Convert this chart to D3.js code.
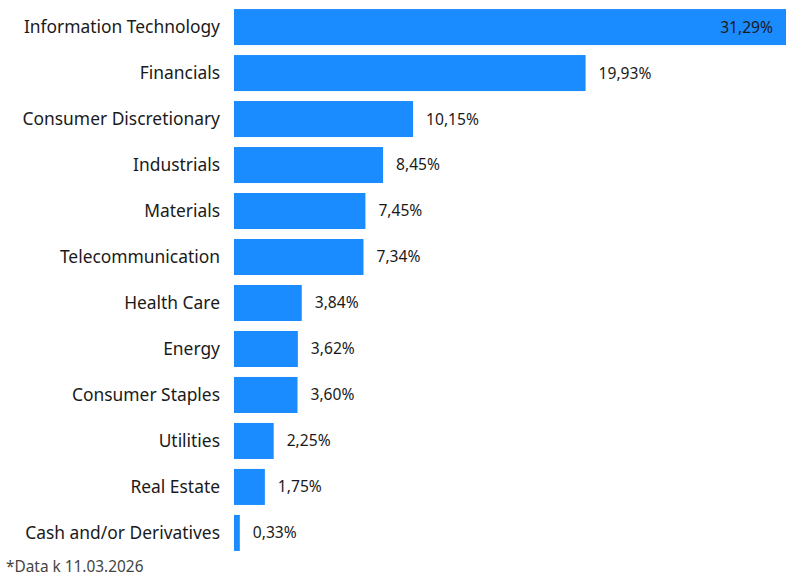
<!DOCTYPE html>
<html>
<head>
    <meta charset="utf-8">
    <script src="https://d3js.org/d3.v7.min.js"></script>
    <style>
        body { margin: 0; background: #fff; }
        text { font-family: "Noto Sans", sans-serif; fill: #1a1a1a; }
    </style>
</head>
<body>
    <svg id="chart" width="792" height="588"></svg>
    <script>
        // sector weights
        const sectors = ["Information Technology", "Financials", "Consumer Discretionary", "Industrials",
            "Materials", "Telecommunication", "Health Care", "Energy", "Consumer Staples",
            "Utilities", "Real Estate", "Cash and/or Derivatives"];
        const weights = [31.29, 19.93, 10.15, 8.45, 7.45, 7.34, 3.84, 3.62, 3.60, 2.25, 1.75, 0.33];
        const footnote = "*Data k 11.03.2026";

        const svg = d3.select("svg");
        const data = sectors.map((s, i) => ({ name: s, value: weights[i] }));

        const x = d3.scaleLinear()
            .domain([0, 31.29])
            .range([234, 786]);

        const y = d3.scaleBand()
            .domain(sectors)
            .range([4, 556])
            .paddingInner(0.217)
            .paddingOuter(0.11);

        const fmt = v => v.toFixed(2).replace(".", ",") + "%";

        svg.append("g")
            .selectAll("rect")
            .data(data)
            .join("rect")
            .attr("x", x(0))
            .attr("y", d => y(d.name))
            .attr("width", d => x(d.value) - x(0))
            .attr("height", y.bandwidth())
            .attr("fill", "#1a8cff");

        // category labels
        svg.append("g")
            .selectAll("text")
            .data(data)
            .join("text")
            .attr("x", 220)
            .attr("y", d => y(d.name) + y.bandwidth() / 2)
            .attr("dy", "0.35em")
            .attr("text-anchor", "end")
            .style("font-size", "17.4px")
            .text(d => d.name);

        // value labels
        svg.append("g")
            .selectAll("text")
            .data(data)
            .join("text")
            .attr("x", (d, i) => i === 0 ? x(d.value) - 13 : x(d.value) + 13)
            .attr("y", d => y(d.name) + y.bandwidth() / 2)
            .attr("dy", "0.35em")
            .attr("text-anchor", (d, i) => i === 0 ? "end" : "start")
            .style("font-size", "15.6px")
            .text(d => fmt(d.value));

        svg.append("text")
            .attr("x", 6)
            .attr("y", 572)
            .style("font-size", "15.4px")
            .style("fill", "#444")
            .text(footnote);
    </script>
</body>
</html>
